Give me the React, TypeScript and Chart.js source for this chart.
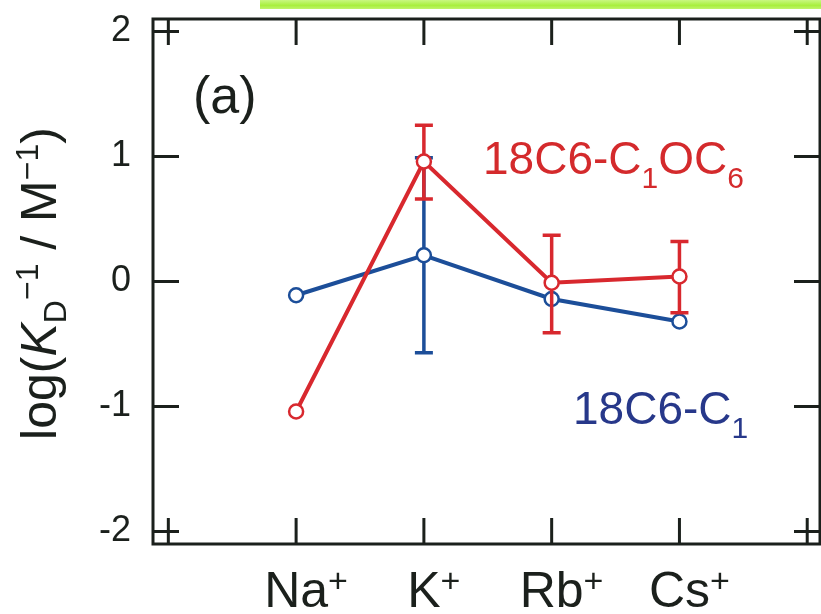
import React, { useEffect, useRef } from "react";
import { Chart, registerables } from "chart.js";

Chart.register(...registerables);

// ---- data ----
const categories = ["Na", "K", "Rb", "Cs"];
const categorySup = ["+", "+", "+", "+"];
const categoryX = [1, 2, 3, 4];

const redName = "18C6-C1OC6";
const redValues = [-1.04, 0.96, -0.01, 0.04];
const redErrLow: (number | null)[] = [null, 0.66, -0.41, -0.25];
const redErrHigh: (number | null)[] = [null, 1.25, 0.37, 0.32];

const blueName = "18C6-C1";
const blueValues = [-0.11, 0.21, -0.14, -0.32];
const blueErrLow: (number | null)[] = [null, -0.57, null, null];
const blueErrHigh: (number | null)[] = [null, 0.99, null, null];

const yMin = -2.1;
const yMax = 2.1;
const xMin = -0.12;
const xMax = 5.1;

const RED = "#d8282e";
const BLUE = "#1c4e99";
const RED_TEXT = "#d42a2c";
const BLUE_TEXT = "#27388a";
const INK = "#1b201c";
const FAMILY = "'Liberation Sans', Arial, Helvetica, sans-serif";

type Seg = { t: string; size: number; dy?: number; italic?: boolean };

function fontOf(s: Seg) {
  return `${s.italic ? "italic " : ""}${s.size}px ${FAMILY}`;
}

function drawRich(ctx: CanvasRenderingContext2D, segs: Seg[], x: number, y: number, align: "left" | "center", color: string) {
  ctx.save();
  ctx.fillStyle = color;
  ctx.textAlign = "left";
  ctx.textBaseline = "alphabetic";
  const widths = segs.map((s) => {
    ctx.font = fontOf(s);
    return ctx.measureText(s.t).width;
  });
  const total = widths.reduce((a, b) => a + b, 0);
  let cx = align === "center" ? x - total / 2 : x;
  segs.forEach((s, i) => {
    ctx.font = fontOf(s);
    ctx.fillText(s.t, cx, y + (s.dy || 0));
    cx += widths[i];
  });
  ctx.restore();
}

const errorBarPlugin = {
  id: "errorBars",
  beforeDatasetDraw(chart: any, args: any) {
    const ds = chart.data.datasets[args.index];
    const lows = ds.errLow as (number | null)[];
    const highs = ds.errHigh as (number | null)[];
    if (!lows) return;
    const ctx: CanvasRenderingContext2D = chart.ctx;
    const xs = chart.scales.x;
    const ys = chart.scales.y;
    ctx.save();
    ctx.strokeStyle = ds.borderColor;
    ctx.lineWidth = 3.5;
    ctx.lineCap = "butt";
    ds.data.forEach((p: any, i: number) => {
      const lo = lows[i];
      const hi = highs[i];
      if (lo == null || hi == null) return;
      const px = xs.getPixelForValue(p.x);
      const y1 = ys.getPixelForValue(lo);
      const y2 = ys.getPixelForValue(hi);
      ctx.beginPath();
      ctx.moveTo(px, y1);
      ctx.lineTo(px, y2);
      ctx.moveTo(px - 9, y1);
      ctx.lineTo(px + 9, y1);
      ctx.moveTo(px - 9, y2);
      ctx.lineTo(px + 9, y2);
      ctx.stroke();
    });
    ctx.restore();
  },
};

const decorPlugin = {
  id: "decor",
  afterDraw(chart: any) {
    const ctx: CanvasRenderingContext2D = chart.ctx;
    const { left, right, top, bottom } = chart.chartArea;
    const xs = chart.scales.x;
    const ys = chart.scales.y;
    ctx.save();
    ctx.strokeStyle = INK;
    ctx.lineWidth = 3;
    ctx.strokeRect(left, top, right - left, bottom - top);
    const tl = 26;
    ctx.beginPath();
    ys.ticks.forEach((t: any) => {
      const py = ys.getPixelForValue(t.value);
      ctx.moveTo(left, py);
      ctx.lineTo(left + tl, py);
      ctx.moveTo(right, py);
      ctx.lineTo(right - tl, py);
    });
    xs.ticks.forEach((t: any) => {
      const px = xs.getPixelForValue(t.value);
      ctx.moveTo(px, top);
      ctx.lineTo(px, top + tl);
      ctx.moveTo(px, bottom);
      ctx.lineTo(px, bottom - tl);
    });
    ctx.stroke();
    ctx.restore();

    // x category labels
    categories.forEach((c, i) => {
      const px = xs.getPixelForValue(categoryX[i]);
      ctx.save();
      ctx.font = fontOf({ t: c, size: 50 });
      const w = ctx.measureText(c).width;
      ctx.restore();
      drawRich(ctx, [
        { t: c, size: 50 },
        { t: categorySup[i], size: 34, dy: -15 },
      ], px - w / 2, bottom + 63, "left", INK);
    });

    // y axis title
    ctx.save();
    ctx.translate(56, (top + bottom) / 2 + 2);
    ctx.rotate(-Math.PI / 2);
    drawRich(ctx, [
      { t: "log(", size: 50 },
      { t: "K", size: 50, italic: true },
      { t: "D", size: 32, dy: 10 },
      { t: "\u22121", size: 32, dy: -18 },
      { t: " / ", size: 50 },
      { t: "M", size: 50 },
      { t: "\u22121", size: 32, dy: -18 },
      { t: ")", size: 50 },
    ], 0, 0, "center", INK);
    ctx.restore();

    // panel label
    drawRich(ctx, [{ t: "(a)", size: 52 }], left + 40, top + 94, "left", INK);

    // series labels
    drawRich(ctx, [
      { t: "18C6-C", size: 46 },
      { t: "1", size: 30, dy: 14 },
      { t: "OC", size: 46 },
      { t: "6", size: 30, dy: 14 },
    ], 483, 174, "left", RED_TEXT);
    drawRich(ctx, [
      { t: "18C6-C", size: 46 },
      { t: "1", size: 30, dy: 14 },
    ], 573, 424, "left", BLUE_TEXT);
  },
};

export default function App() {
  const ref = useRef<HTMLCanvasElement | null>(null);
  useEffect(() => {
    if (!ref.current) return;
    const chart = new Chart(ref.current, {
      type: "line",
      data: {
        datasets: [
          {
            label: redName,
            data: categoryX.map((x, i) => ({ x, y: redValues[i] })),
            borderColor: RED,
            backgroundColor: "#ffffff",
            pointBackgroundColor: "#ffffff",
            pointBorderColor: RED,
            borderWidth: 4,
            pointRadius: 7,
            pointBorderWidth: 2.5,
            tension: 0,
            errLow: redErrLow,
            errHigh: redErrHigh,
          } as any,
          {
            label: blueName,
            data: categoryX.map((x, i) => ({ x, y: blueValues[i] })),
            borderColor: BLUE,
            backgroundColor: "#ffffff",
            pointBackgroundColor: "#ffffff",
            pointBorderColor: BLUE,
            borderWidth: 4,
            pointRadius: 7,
            pointBorderWidth: 2.5,
            tension: 0,
            errLow: blueErrLow,
            errHigh: blueErrHigh,
          } as any,
        ],
      },
      options: {
        animation: false,
        responsive: false,
        devicePixelRatio: 1,
        layout: { autoPadding: false, padding: { top: 19, right: 1, left: 0, bottom: 0 } },
        plugins: { legend: { display: false }, tooltip: { enabled: false } },
        scales: {
          x: {
            type: "linear",
            min: xMin,
            max: xMax,
            grid: { display: false },
            border: { display: false },
            ticks: { display: false, stepSize: 1, includeBounds: false },
            afterFit: (s: any) => {
              s.height = 70;
              s.paddingLeft = 0;
              s.paddingRight = 0;
            },
          },
          y: {
            type: "linear",
            min: yMin,
            max: yMax,
            grid: { display: false },
            border: { display: false },
            ticks: {
              stepSize: 1,
              includeBounds: false,
              padding: 14,
              color: INK,
              font: { family: FAMILY, size: 36 },
            },
            afterFit: (s: any) => {
              s.width = 153;
              s.paddingTop = 0;
              s.paddingBottom = 0;
            },
          },
        },
      } as any,
      plugins: [errorBarPlugin, decorPlugin],
    });
    return () => chart.destroy();
  }, []);

  return (
    <div style={{ position: "absolute", left: 0, top: 0, width: 821, height: 614, background: "#ffffff", overflow: "hidden" }}>
      <div
        style={{
          position: "absolute",
          left: 260,
          top: 0,
          width: 561,
          height: 9,
          background: "linear-gradient(#c9f782, #a8ef3e 60%, #bff46c)",
        }}
      />
      <canvas ref={ref} width={821} height={614} style={{ display: "block", width: 821, height: 614 }} />
    </div>
  );
}
